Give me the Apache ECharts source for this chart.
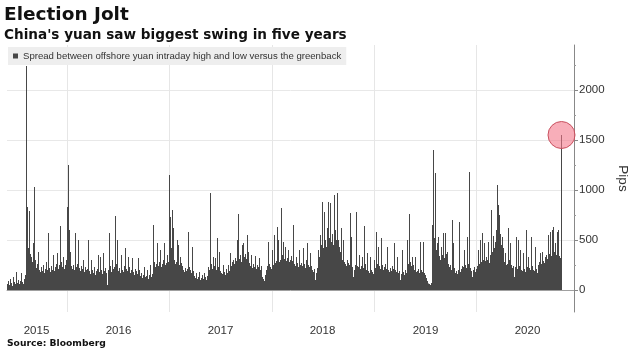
<!DOCTYPE html>
<html><head><meta charset="utf-8">
<script src="https://cdn.jsdelivr.net/npm/echarts@6/dist/echarts.min.js"></script>
<style>html,body{margin:0;padding:0;background:#fff}#c{width:634px;height:354px}</style>
</head><body><div id="c"></div>
<script>
// x categories: one bar every DAYS_PER_BAR days starting FIRST_DAY
const FIRST_DAY = '2015-06-01';
const DAYS_PER_BAR = 3.5704;
const TOTAL_BARS = 567;
const SERIES_NAME = 'Spread between offshore yuan intraday high and low versus the greenback';

// Spread (pips)
const spread2015 = [
  60, 90, 50, 110, 70, 40, 130, 80, 60, 180,
  70, 100, 60, 90, 170, 80, 60, 110, 150, 2240,
  830, 420, 790, 360, 330, 280, 470, 1030, 300, 220,
  260, 380, 200, 180, 230, 190, 250, 170, 210, 280,
  200, 570, 220, 180, 240, 200, 350, 190, 230, 260,
  370, 210, 250, 640, 280, 230, 330, 210, 250, 300
];
const spread2016 = [
  830, 1250, 600, 380, 240, 210, 250, 200, 570, 230,
  260, 500, 220, 190, 240, 210, 300, 180, 230, 200,
  210, 500, 190, 160, 300, 200, 170, 230, 150, 190,
  210, 350, 180, 330, 200, 160, 370, 190, 220, 170,
  50, 200, 570, 240, 180, 300, 210, 230, 740, 260,
  500, 190, 220, 170, 350, 200, 180, 240, 420, 210,
  190, 330, 230, 170, 200, 320, 180, 150, 210, 190,
  160, 320, 200, 140, 170, 120, 150, 230, 130, 140,
  200, 110, 150, 250, 130, 160, 650, 280, 230, 260,
  470, 240, 280, 400, 230, 260, 300, 470, 250, 270,
  350, 280
];
const spread2017 = [
  1150, 730, 420, 800, 620, 300, 260, 280, 500, 450,
  250, 330, 270, 240, 200, 180, 220, 190, 210, 580,
  230, 200, 170, 430, 190, 140, 120, 170, 110, 130,
  180, 100, 120, 150, 110, 170, 130, 100, 140, 230,
  200, 970, 260, 210, 330, 240, 320, 200, 520, 230,
  380, 190, 170, 160, 250, 180, 150, 210, 170, 250,
  190, 370, 240, 280, 300, 260, 320, 290, 500, 760,
  310, 350, 280, 450, 470, 330, 360, 310, 550, 380,
  270, 240, 350, 220, 260, 230, 340, 210, 250, 230,
  320, 200, 240, 130, 110, 90, 150, 200, 240, 480,
  260
];
const spread2018 = [
  230, 210, 400, 250, 550, 270, 290, 630,
  500, 280, 300, 820, 350, 480, 310, 430, 290, 320,
  400, 280, 300, 340, 290, 650, 260, 240, 330, 270,
  230, 400, 250, 270, 240, 420, 260, 220, 300, 470,
  250, 230, 370, 240, 200, 180, 210, 100, 170, 220,
  400, 330, 550, 450, 880, 420, 780, 500, 430, 620,
  880, 520, 870, 480, 560, 450, 950, 600, 500, 970,
  500, 430, 380, 620, 300, 500, 280, 260, 240, 300,
  270, 250, 770, 530, 230, 130, 200, 250, 780, 240,
  230, 350, 210, 240, 330, 220, 640, 260, 200, 370,
  190, 170, 330, 200, 180
];
const spread2019 = [
  160, 300, 220, 580, 260,
  430, 240, 210, 520, 250, 200, 230, 260, 210, 430,
  200, 180, 220, 190, 240, 210, 470, 200, 180, 330,
  170, 190, 100, 160, 400, 180, 150, 200, 170, 500,
  260, 760, 280, 240, 330, 250, 200, 330, 180, 190,
  210, 170, 480, 200, 180, 480, 170, 150, 120, 90,
  65, 60, 50, 70, 650, 1400, 520, 1170, 400, 470,
  530, 340, 300, 430, 350, 570, 320, 570, 360, 380,
  260, 230, 250, 200, 700, 470, 220, 170, 190, 160,
  200, 680, 180, 210, 240, 230, 400, 250, 220, 530,
  260, 1180, 220, 190, 130, 200, 230, 180
];
const spread2020 = [
  210, 240,
  400, 260, 500, 280, 570, 300, 470, 290, 330, 300,
  480, 270, 350, 800, 380, 540, 420, 480, 600, 1050,
  850, 750, 560, 450, 530, 420, 280, 370, 250, 260,
  620, 300, 470, 250, 220, 240, 130, 230, 530, 210,
  500, 240, 400, 200, 190, 370, 210, 180, 600, 230,
  330, 220, 200, 530, 240, 200, 190, 430, 210, 170,
  250, 280, 370, 260, 380, 290, 270, 330, 350, 310,
  550, 360, 580, 340, 600, 630, 380, 470, 350, 580,
  600, 340, 320, 1550
];
const yTicks = [0, 500, 1000, 1500, 2000];
const yMinorTicks = [250, 750, 1250, 1750, 2250];

const values = [].concat(spread2015, spread2016, spread2017, spread2018, spread2019, spread2020);
const DAY = 86400000;
const t0 = Date.parse(FIRST_DAY + 'T00:00:00Z');
const stepMs = DAYS_PER_BAR * DAY;
const dates = [];
for (let i = 0; i < TOTAL_BARS; i++) {
  dates.push(new Date(t0 + (i + 0.5) * stepMs).toISOString().slice(0, 10));
}
const data = dates.map((d, i) => (i < values.length ? values[i] : null));

const yearIdx = new Set(), quarterIdx = new Set(), labelIdx = new Set();
for (let i = 1; i < dates.length; i++) {
  const y0 = dates[i - 1].slice(0, 4), y1 = dates[i].slice(0, 4);
  const q0 = Math.floor((+dates[i - 1].slice(5, 7) - 1) / 3);
  const q1 = Math.floor((+dates[i].slice(5, 7) - 1) / 3);
  if (y0 !== y1) yearIdx.add(i);
  if (y0 !== y1 || q0 !== q1) quarterIdx.add(i);
}
[...new Set(dates.map(d => +d.slice(0, 4)))].forEach(y => {
  const s = Math.max(Date.UTC(y, 0, 1), t0);
  const e = Date.UTC(y + 1, 0, 1);
  const i = Math.round(((s + e) / 2 - t0) / stepMs - 0.5);
  if (i >= 0 && i < TOTAL_BARS) labelIdx.add(i);
});
const lastIdx = values.length - 1;

const chart = echarts.init(document.getElementById('c'), null, { renderer: 'canvas' });
chart.setOption({
  animation: false,
  textStyle: { fontFamily: 'Liberation Sans' },
  title: [
    { text: 'Election Jolt', left: 4, top: 6, padding: 0,
      textStyle: { fontFamily: 'DejaVu Sans', fontSize: 18.5, fontWeight: 'bold', color: '#111' } },
    { text: "China's yuan saw biggest swing in five years", left: 4, top: 28, padding: 0,
      textStyle: { fontFamily: 'DejaVu Sans', fontSize: 13.6, fontWeight: 'bold', color: '#111' } },
    { text: 'Source: Bloomberg', left: 7, top: 339, padding: 0,
      textStyle: { fontFamily: 'DejaVu Sans', fontSize: 9.2, fontWeight: 'bold', color: '#111' } }
  ],
  legend: {
    left: 8, top: 47, padding: [4, 5, 4, 5], backgroundColor: '#eeeeee',
    icon: 'rect', itemWidth: 5, itemHeight: 5,
    textStyle: { fontFamily: 'Liberation Sans', fontSize: 9.6, color: '#333' },
    data: [SERIES_NAME]
  },
  grid: { left: 7, right: 60, top: 45, bottom: 42, outerBoundsMode: 'none', containLabel: false },
  xAxis: [
    {
      type: 'category', data: dates, boundaryGap: true,
      axisLine: { lineStyle: { color: '#a0a0a0', width: 1 } },
      axisTick: { interval: i => quarterIdx.has(i), length: 3, lineStyle: { color: '#999' } },
      axisLabel: { interval: i => labelIdx.has(i), formatter: v => v.slice(0, 4),
        color: '#333', fontSize: 11.5, margin: 13 },
      splitLine: { show: true, interval: i => yearIdx.has(i), lineStyle: { color: '#e6e6e6' } }
    },
    {
      type: 'category', data: dates, boundaryGap: true, position: 'bottom',
      axisLine: { show: false },
      axisTick: { interval: i => yearIdx.has(i), length: 28, lineStyle: { color: '#c8c8c8' } },
      axisLabel: { show: false }, splitLine: { show: false }
    }
  ],
  yAxis: [
    {
      type: 'value', position: 'right', min: -220, max: 2450,
      name: 'Pips', nameLocation: 'middle', nameRotate: -90, nameGap: 40,
      nameTextStyle: { fontSize: 13.5, color: '#333' },
      axisLine: { show: true, lineStyle: { color: '#888' } },
      axisTick: { show: true, customValues: yTicks, length: 4, lineStyle: { color: '#888' } },
      axisLabel: { customValues: yTicks, color: '#333', fontSize: 11.5, margin: 5,
        formatter: v => String(v) },
      splitLine: { show: true, lineStyle: { color: '#e8e8e8' } }
    },
    {
      type: 'value', position: 'right', min: -220, max: 2450,
      axisLine: { show: false },
      axisTick: { show: true, customValues: yMinorTicks, length: 2, lineStyle: { color: '#999' } },
      axisLabel: { show: false }, splitLine: { show: false }
    }
  ],
  series: [{
    name: SERIES_NAME, type: 'bar', data: data, barCategoryGap: '0%', barGap: '0%',
    itemStyle: { color: '#474747' },
    markPoint: {
      symbol: 'circle', symbolSize: 27, silent: true,
      label: { show: false },
      itemStyle: { color: 'rgba(244,120,138,0.6)', borderColor: '#c8505e', borderWidth: 1 },
      data: [{ coord: [dates[lastIdx], values[lastIdx]] }]
    }
  }]
});
</script></body></html>
